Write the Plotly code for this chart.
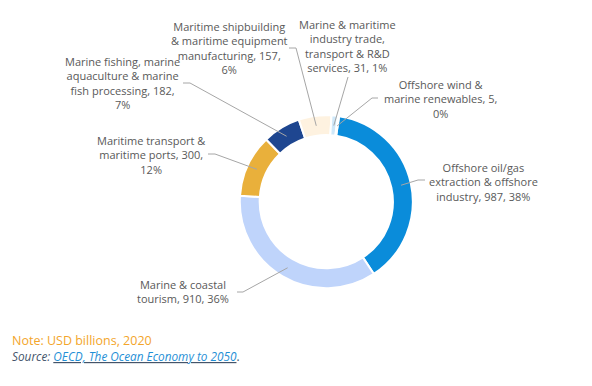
import math
import plotly.graph_objects as go

# ---- data ----
categories = [
    "Offshore oil/gas extraction & offshore industry",
    "Marine & coastal tourism",
    "Maritime transport & maritime ports",
    "Marine fishing, marine aquaculture & marine fish processing",
    "Maritime shipbuilding & maritime equipment manufacturing",
    "Marine & maritime industry trade, transport & R&D services",
    "Offshore wind & marine renewables",
]
values = [987, 910, 300, 182, 157, 31, 5]
percent_labels = ["38%", "36%", "12%", "7%", "6%", "1%", "0%"]
label_texts = [
    "Offshore oil/gas<br>extraction & offshore<br>industry, 987, 38%",
    "Marine & coastal<br>tourism, 910, 36%",
    "Maritime transport &<br>maritime ports, 300,<br>12%",
    "Marine fishing, marine<br>aquaculture & marine<br>fish processing, 182,<br>7%",
    "Maritime shipbuilding<br>& maritime equipment<br>manufacturing, 157,<br>6%",
    "Marine & maritime<br>industry trade,<br>transport & R&D<br>services, 31, 1%",
    "Offshore wind &<br>marine renewables, 5,<br>0%",
]
colors = ["#0A8CDA", "#BFD4FB", "#E9B03B", "#1E4690", "#FEF2E0", "#CFE8F9", "#8ED3F5"]

# ---- layout constants (pixels) ----
W, H = 592, 386
CX, CY, R_OUT = 326.3, 201.7, 86.5
HOLE = 0.77
ROT = 8.5
FONT = "Open Sans"
# label centre positions and leader start points (pixel coords)
label_pos = [(483, 182), (183, 291), (151, 155), (122, 83), (229, 48), (347, 46), (441, 99)]
leader_start = [(425, 180), (237, 292), (208, 154), (183, 83), (289, 48), (348, 77), (378, 98)]
leader_elbow = [(418, 180), (243, 292), (215, 154), (190, 83), (296, 48), (348, 77), (372, 98)]

def px(x):
    return x / W

def py(y):
    return 1 - y / H

fig = go.Figure()
fig.add_trace(go.Pie(
    labels=categories, values=values, hole=HOLE, sort=False,
    direction="clockwise", rotation=ROT, textinfo="none",
    marker=dict(colors=colors, line=dict(color="white", width=2)),
    domain=dict(x=[px(CX - R_OUT), px(CX + R_OUT)], y=[py(CY + R_OUT), py(CY - R_OUT)]),
    showlegend=False, hoverinfo="label+value+percent",
))

total = sum(values)
r_mid = R_OUT * (1 + HOLE) / 2
cum = 0
annotations = []
shapes = []
for i, v in enumerate(values):
    mid = ROT + (cum + v / 2) / total * 360
    cum += v
    a = math.radians(mid)
    ex, ey = CX + r_mid * math.sin(a), CY - r_mid * math.cos(a)
    sx, sy = leader_start[i]
    bx, by = leader_elbow[i]
    shapes.append(dict(
        type="path", xref="paper", yref="paper",
        path=f"M {px(sx)} {py(sy)} L {px(bx)} {py(by)} L {px(ex)} {py(ey)}",
        line=dict(color="#A6A6A6", width=1),
    ))
    lx, ly = label_pos[i]
    annotations.append(dict(
        x=px(lx), y=py(ly), xref="paper", yref="paper", text=label_texts[i],
        showarrow=False, xanchor="center", yanchor="middle", align="center",
        font=dict(family=FONT, size=11, color="#595959"),
    ))

annotations.append(dict(
    x=px(10), y=py(340), xref="paper", yref="paper", text="Note: USD billions, 2020",
    showarrow=False, xanchor="left", yanchor="middle",
    font=dict(family=FONT, size=12.5, color="#F3A52B"),
))
annotations.append(dict(
    x=px(10), y=py(356), xref="paper", yref="paper",
    text="<i><span style='color:#44546A'>Source: </span></i>"
         "<i><u><span style='color:#1F8FD6'>OECD, The Ocean Economy to 2050</span></u></i>"
         "<span style='color:#44546A'>.</span>",
    showarrow=False, xanchor="left", yanchor="middle",
    font=dict(family=FONT, size=11.8, color="#44546A"),
))

fig.update_layout(
    width=W, height=H, margin=dict(l=0, r=0, t=0, b=0),
    paper_bgcolor="white", plot_bgcolor="white",
    annotations=annotations, shapes=shapes,
)
fig.write_html("out.html", config={"displayModeBar": False},
               post_script="document.body.style.margin='0';")
